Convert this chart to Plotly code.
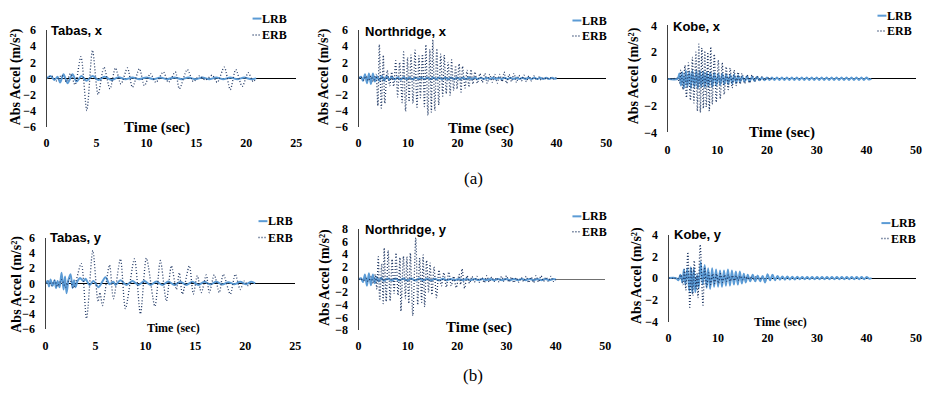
import plotly.graph_objects as go

# ---------------- DATA (time in s, abs. acceleration in m/s^2) -------------
tabas_x_erb = [(0,0),(0.5,0.3),(1.0,-0.3),(1.5,0.4),(2.0,-0.4),(2.4,0.6),(2.85,-0.8),(3.44,2.7),(4.03,-4.0),
               (4.6,3.5),(5.16,-2.0),(5.75,1.4),(6.35,-1.3),(6.9,1.3),(7.45,-0.7),(8.1,1.3),(8.6,-1.1),(9.3,1.2),
               (9.8,-0.9),(10.4,0.6),(10.95,-0.5),(11.7,0.8),(12.2,-0.5),(12.9,0.8),(13.3,-1.3),(14.1,1.1),
               (14.7,-0.4),(15.3,0.3),(15.9,-0.2),(16.6,0.4),(17.1,-0.5),(17.8,1.4),(18.4,-1.4),(18.95,1.1),
               (19.6,-1.0),(20.2,0.7),(20.7,-0.4),(21.0,0)]
tabas_x_lrb = [(0,0),(0.4,0.3),(0.8,-0.2),(1.1,0.2),(1.35,-0.5),(1.7,0.5),(2.1,-0.6),(2.6,0.5),(3.0,-0.4),
               (3.5,0.3),(4.0,-0.3),(4.6,0.3),(5.2,-0.2),(5.8,0.2),(6.5,-0.2),(7.2,0.15),(7.9,-0.1),(8.6,0.1),
               (9.3,-0.1),(10.0,0.12),(10.7,-0.1),(11.4,0.1),(12.1,-0.1),(12.8,0.12),(13.5,-0.1),(14.2,0.1),
               (14.9,-0.1),(15.6,0.1),(16.3,-0.1),(17.0,0.1),(17.7,-0.1),(18.4,0.1),(19.1,-0.1),(19.8,0.1),
               (20.5,-0.1),(21.0,0)]

northridge_x_erb = [(0,0),(0.5,0.15),(1.0,-0.2),(1.5,0.3),(2.0,-0.3),(2.5,0.3),(3.0,-0.4),(3.5,0.5),(3.9,-3.4),
                    (4.2,4.2),(4.6,-3.7),(5.0,2.9),(5.3,-3.1),(5.8,1.0),(6.3,-0.9),(6.7,0.8),(7.1,-1.0),(7.5,2.2),
                    (7.9,-2.3),(8.3,2.0),(8.8,-3.0),(9.1,3.3),(9.5,-4.1),(9.9,2.6),(10.2,-2.9),(10.6,2.9),
                    (11.0,-3.1),(11.4,3.5),(11.8,-3.6),(12.2,2.8),(12.5,-2.4),(12.9,3.0),(13.3,-3.5),(13.6,4.2),
                    (14.0,-4.6),(14.4,3.6),(14.7,-4.2),(15.0,4.8),(15.4,-4.0),(15.8,3.7),(16.2,-3.3),(16.6,3.0),
                    (17.0,-2.2),(17.3,2.9),(17.7,-1.9),(18.1,2.0),(18.5,-2.1),(18.8,2.3),(19.2,-1.5),(19.6,1.6),
                    (19.9,-1.3),(20.3,1.8),(20.7,-1.7),(21.0,1.5),(21.5,-1.2),(21.9,1.0),(22.3,-1.1),(22.7,1.1),
                    (23.1,-0.7),(23.5,0.8),(24.0,-0.6),(24.5,0.6),(25.0,-0.5),(25.5,0.6),(26.0,-0.6),(26.5,0.5),
                    (27.0,-0.5),(27.5,0.5),(28.0,-0.6),(28.5,0.5),(29.0,-0.4),(29.4,0.8),(29.9,-0.6),(30.4,0.5),
                    (30.9,-0.4),(31.4,0.6),(31.9,-0.5),(32.4,0.4),(32.9,-0.3),(33.4,0.4),(33.9,-0.4),(34.4,0.3),
                    (34.9,-0.3),(35.4,0.3),(35.9,-0.2),(36.4,0.2),(36.9,-0.2),(37.4,0.1),(38.0,-0.1),(38.6,0.1),
                    (39.2,-0.1),(39.8,0.1),(40.0,0)]
northridge_x_lrb = [(0,0),(0.5,0.2),(0.9,-0.3),(1.3,0.5),(1.7,-0.6),(2.1,0.6),(2.5,-0.7),(2.9,0.6),(3.3,-0.4),
                    (3.7,0.3),(4.2,-0.3),(4.7,0.3),(5.2,-0.3),(5.7,0.3),(6.2,-0.2),(6.7,0.2),(7.3,-0.15),(7.9,0.15),
                    (8.5,-0.15),(9.1,0.15),(9.7,-0.12),(10.3,0.12),(10.9,-0.12),(11.5,0.12),(12.1,-0.1),(12.7,0.12),
                    (13.3,-0.1),(13.9,0.1),(14.5,-0.1),(15.1,0.1),(15.7,-0.1),(16.3,0.1),(16.9,-0.1),(17.5,0.1),
                    (18.1,-0.1),(18.7,0.1),(19.3,-0.1),(19.9,0.1),(20.5,-0.1),(21.1,0.1),(21.7,-0.1),(22.3,0.1),
                    (22.9,-0.1),(23.5,0.1),(24.1,-0.08),(24.7,0.08),(25.3,-0.08),(25.9,0.08),(26.5,-0.08),
                    (27.1,0.08),(27.7,-0.08),(28.3,0.08),(28.9,-0.08),(29.5,0.08),(30.1,-0.08),(30.7,0.08),
                    (31.3,-0.08),(31.9,0.08),(32.5,-0.08),(33.1,0.08),(33.7,-0.08),(34.3,0.08),(34.9,-0.08),
                    (35.5,0.08),(36.1,-0.08),(36.7,0.08),(37.3,-0.08),(37.9,0.08),(38.5,-0.08),(39.1,0.08),
                    (39.7,-0.05),(40.0,0)]

kobe_x_erb = [(0,0),(1.0,0),(2.0,0.05),(2.4,-0.3),(2.7,0.65),(3.1,-0.8),(3.5,1.0),(3.8,-1.4),(4.2,1.2),(4.6,-1.6),
              (5.0,1.6),(5.3,-1.8),(5.7,2.0),(6.0,-2.4),(6.3,2.6),(6.6,-2.5),(6.9,2.3),(7.2,-2.2),(7.5,2.1),
              (7.8,-2.1),(8.1,2.0),(8.4,-2.4),(8.7,2.4),(9.0,-1.9),(9.4,1.85),(9.8,-1.75),(10.2,1.4),(10.6,-1.5),
              (11.0,1.2),(11.4,-1.15),(11.8,0.9),(12.2,-0.8),(12.6,0.8),(13.0,-0.67),(13.4,0.65),(13.8,-0.5),
              (14.2,0.5),(14.6,-0.4),(15.0,0.4),(15.5,-0.35),(16.0,0.3),(16.5,-0.3),(17.0,0.3),(17.5,-0.2),
              (18.0,0.2),(18.5,-0.15),(19.0,0.15),(19.5,-0.1),(20.0,0.05),(21.0,0)]
kobe_x_lrb = [(0,0),(2.0,0),(2.4,0.4),(2.7,-0.5),(3.0,0.5),(3.3,-0.7),(3.7,0.6),(4.0,-0.6),(4.4,0.55),(4.7,-0.7),
              (5.0,0.6),(5.4,-0.6),(5.8,0.6),(6.1,-0.7),(6.5,0.6),(6.8,-0.6),(7.2,0.55),(7.5,-0.6),(7.9,0.5),
              (8.2,-0.6),(8.6,0.5),(9.0,-0.6),(9.4,0.45),(9.8,-0.5),(10.2,0.4),(10.6,-0.45),(11.0,0.4),
              (11.4,-0.4),(11.8,0.35),(12.2,-0.4),(12.6,0.3),(13.0,-0.35),(13.4,0.3),(13.8,-0.3),(14.2,0.25),
              (14.6,-0.25),(15.0,0.2),(15.5,-0.2),(16.0,0.2),(16.5,-0.2),(17.0,0.15),(17.5,-0.15),(18.0,0.15),
              (18.5,-0.1),(19.0,0.1),(19.5,-0.1),(20.0,0.1),(20.5,-0.08),(21.0,0.1),(21.5,-0.08),(22.0,0.1),
              (22.5,-0.08),(23.0,0.1),(23.5,-0.08),(24.0,0.1),(24.5,-0.08),(25.0,0.1),(25.5,-0.08),(26.0,0.1),
              (26.5,-0.08),(27.0,0.1),(27.5,-0.08),(28.0,0.1),(28.5,-0.08),(29.0,0.1),(29.5,-0.08),(30.0,0.1),
              (30.5,-0.08),(31.0,0.1),(31.5,-0.08),(32.0,0.1),(32.5,-0.08),(33.0,0.1),(33.5,-0.08),(34.0,0.1),
              (34.5,-0.08),(35.0,0.1),(35.5,-0.08),(36.0,0.1),(36.5,-0.08),(37.0,0.1),(37.5,-0.08),(38.0,0.1),
              (38.5,-0.08),(39.0,0.1),(39.5,-0.08),(40.0,0.1),(40.5,-0.05),(41.0,0)]

tabas_y_erb = [(0,0),(0.3,0.3),(0.6,-0.3),(0.9,0.4),(1.2,-0.4),(1.6,0.5),(2.0,-0.5),(2.4,0.6),(2.8,-0.6),
               (3.57,2.6),(4.1,-4.6),(4.73,4.3),(5.25,-2.4),(5.45,-1.2),(5.7,-2.9),(6.4,2.4),(6.8,-2.0),(7.5,3.2),
               (8.0,-3.3),(8.9,3.2),(9.5,-4.0),(10.1,3.3),(10.95,-3.0),(11.5,3.0),(12.1,-2.3),(12.6,2.3),
               (13.1,-0.8),(13.4,1.4),(13.7,-1.4),(14.4,2.3),(14.8,-1.4),(15.2,1.0),(15.6,-1.2),(16.1,1.1),
               (16.4,-1.2),(16.9,1.1),(17.4,-1.2),(17.8,1.2),(18.5,-1.4),(19.0,1.2),(19.5,-0.8),(19.9,0.3),
               (20.3,-0.3),(20.6,0)]
tabas_y_lrb = [(0,0),(0.2,0.3),(0.35,-0.4),(0.5,0.5),(0.7,-0.3),(0.9,0.4),(1.05,-0.6),(1.2,0.3),(1.4,-0.5),
               (1.6,1.4),(1.8,-0.8),(1.95,0.9),(2.1,-1.3),(2.3,0.5),(2.5,1.2),(2.7,-0.6),(2.85,0.4),(3.0,-0.5),
               (3.2,0.3),(3.45,0.7),(3.8,0.3),(4.0,0.6),(4.4,-0.2),(4.8,0.3),(5.3,-0.5),(6.0,0.8),(6.4,-0.1),
               (6.8,0.2),(7.0,-0.2),(7.5,0.4),(8.1,-0.2),(8.7,0.3),(9.3,-0.2),(9.9,0.3),(10.5,-0.2),(11.1,0.25),
               (11.7,-0.2),(12.3,0.25),(12.9,-0.2),(13.5,0.2),(14.1,-0.2),(14.7,0.2),(15.3,-0.2),(15.9,0.2),
               (16.5,-0.15),(17.1,0.2),(17.7,-0.15),(18.3,0.15),(18.9,-0.1),(19.5,0.2),(20.1,-0.1),(20.6,0.2),
               (21.0,0)]

northridge_y_erb = [(0,0),(0.5,0.1),(1.0,-0.2),(1.5,0.2),(2.0,-0.3),(2.5,0.4),(3.0,-0.6),(3.4,0.8),(3.7,-1.5),
                    (4.0,3.6),(4.3,-3.3),(4.7,2.5),(5.0,-3.8),(5.2,5.0),(5.6,-3.5),(6.0,4.6),(6.4,-3.4),(6.8,3.2),
                    (7.2,-2.2),(7.6,4.2),(8.0,-2.5),(8.4,3.5),(8.6,-5.0),(9.1,3.7),(9.5,-3.0),(9.8,3.6),
                    (10.2,-3.8),(10.5,4.2),(11.0,-5.7),(11.6,6.6),(12.0,-4.0),(12.4,3.4),(12.8,-3.6),(13.1,3.9),
                    (13.4,-4.3),(13.8,3.0),(14.2,-2.0),(14.5,2.6),(14.9,-2.4),(15.3,2.0),(15.8,-2.9),(16.3,1.5),
                    (16.8,-1.0),(17.3,1.1),(17.8,-1.2),(18.3,1.2),(18.8,-1.0),(19.3,0.5),(19.8,-1.3),(20.4,0.8),
                    (20.7,-0.8),(21.0,1.7),(21.5,-1.4),(22.0,0.6),(22.5,-0.6),(23.0,0.5),(23.5,-0.4),(24.0,0.5),
                    (24.5,-0.4),(25.0,0.3),(25.5,-0.5),(26.0,0.6),(26.5,-0.4),(27.0,0.4),(27.5,-0.3),(28.0,0.3),
                    (28.5,-0.4),(29.0,0.5),(29.5,-0.3),(30.0,0.6),(30.5,-0.4),(31.0,0.4),(31.5,-0.5),(32.0,0.3),
                    (32.5,-0.4),(33.0,0.3),(33.5,-0.3),(34.0,0.5),(34.5,-0.5),(35.0,0.4),(35.5,-0.5),(36.0,0.6),
                    (36.5,-0.4),(37.0,0.6),(37.5,-0.3),(38.0,0.4),(38.5,-0.3),(39.0,0.5),(39.5,-0.3),(40.0,0)]
northridge_y_lrb = [(0,0),(0.5,0.2),(0.9,-0.4),(1.3,0.8),(1.7,-1.0),(2.1,1.0),(2.5,-0.9),(2.9,0.8),(3.3,-0.6),
                    (3.7,0.4),(4.1,-0.3),(4.6,0.3),(5.1,-0.2),(5.9,0.15),(6.7,-0.15),(7.5,0.15),(8.3,-0.15),
                    (9.1,0.15),(9.9,-0.15),(10.7,0.15),(11.5,-0.15),(12.3,0.15),(13.1,-0.12),(13.9,0.12),
                    (14.7,-0.12),(15.5,0.12),(16.3,-0.12),(17.1,0.12),(17.9,-0.1),(18.7,0.1),(19.5,-0.1),(20.3,0.1),
                    (21.1,-0.1),(21.9,0.1),(22.7,-0.1),(23.5,0.1),(24.3,-0.1),(25.1,0.1),(25.9,-0.1),(26.7,0.1),
                    (27.5,-0.1),(28.3,0.1),(29.1,-0.1),(29.9,0.1),(30.7,-0.1),(31.5,0.1),(32.3,-0.1),(33.1,0.1),
                    (33.9,-0.1),(34.7,0.1),(35.5,-0.1),(36.3,0.1),(37.1,-0.1),(37.9,0.1),(38.7,-0.1),(39.5,0.1),
                    (40.0,0)]

kobe_y_erb = [(0,0),(2.0,0),(2.5,0.3),(2.9,-0.6),(3.2,0.8),(3.5,-1.1),(3.9,2.4),(4.3,-2.7),(4.6,1.0),(4.9,-1.6),
              (5.2,1.6),(5.55,-1.0),(5.75,0.4),(5.95,-1.8),(6.4,3.1),(6.95,-2.5),(7.3,1.0),(7.7,-0.8),(8.1,0.5),
              (8.5,-0.6),(8.9,0.4),(9.3,-0.5),(9.7,0.4),(10.1,-0.5),(10.5,0.4),(10.9,-0.4),(11.3,0.3),(11.7,-0.3),
              (12.1,0.3),(12.5,-0.3),(12.9,0.25),(13.3,-0.25),(13.7,0.2),(14.1,-0.2),(14.5,0.2),(15.0,-0.15),
              (15.5,0.15),(16.0,-0.1),(16.5,0.1),(17.0,-0.1),(17.5,0.1),(18.0,-0.05),(19.0,0)]
kobe_y_lrb = [(0,0),(1.5,0),(2.0,-0.2),(2.4,0.3),(2.8,-0.4),(3.1,0.8),(3.4,-0.6),(3.8,0.9),(4.2,-1.2),(4.5,1.0),
              (4.8,-1.4),(5.1,0.9),(5.4,-1.3),(5.8,0.3),(6.1,-0.9),(6.5,1.5),(6.9,-0.6),(7.3,1.2),(7.7,-0.9),
              (8.0,0.9),(8.4,-1.0),(8.8,0.9),(9.2,-0.8),(9.6,0.8),(10.0,-0.8),(10.4,0.7),(10.8,-0.8),(11.2,0.7),
              (11.6,-0.7),(12.0,0.8),(12.4,-0.7),(12.8,0.7),(13.2,-0.6),(13.6,0.6),(14.0,-0.6),(14.4,0.6),
              (14.8,-0.5),(15.2,0.4),(15.6,-0.4),(16.0,0.3),(16.5,-0.3),(17.0,0.3),(17.5,-0.3),(18.0,0.25),
              (18.5,-0.3),(19.0,0.2),(19.5,-0.4),(20.0,0.35),(20.5,-0.2),(21.0,0.3),(21.5,-0.2),(22.0,0.2),
              (22.5,-0.15),(23.0,0.15),(23.5,-0.15),(24.0,0.15),(24.5,-0.12),(25.0,0.12),(25.5,-0.12),(26.0,0.12),
              (26.5,-0.1),(27.0,0.1),(27.5,-0.1),(28.0,0.1),(28.5,-0.1),(29.0,0.1),(29.5,-0.1),(30.0,0.1),
              (30.5,-0.1),(31.0,0.1),(31.5,-0.1),(32.0,0.1),(32.5,-0.1),(33.0,0.1),(33.5,-0.1),(34.0,0.1),
              (34.5,-0.1),(35.0,0.1),(35.5,-0.1),(36.0,0.1),(36.5,-0.1),(37.0,0.1),(37.5,-0.1),(38.0,0.1),
              (38.5,-0.1),(39.0,0.1),(39.5,-0.1),(40.0,0.1),(40.5,-0.05),(41.0,0)]

panel_titles = ["Tabas, x", "Northridge, x", "Kobe, x", "Tabas, y", "Northridge, y", "Kobe, y"]
series_names = ["LRB", "ERB"]
x_ranges = [[0, 25], [0, 50], [0, 50], [0, 25], [0, 50], [0, 50]]
x_steps = [5, 10, 10, 5, 10, 10]
y_ranges = [[-6, 6], [-6, 6], [-4, 4], [-6, 6], [-8, 8], [-4, 4]]
y_steps = [2, 2, 2, 2, 2, 2]
x_title = "Time (sec)"
y_title = "Abs Accel (m/s²)"
group_labels = ["(a)", "(b)"]

lrb_data = [tabas_x_lrb, northridge_x_lrb, kobe_x_lrb, tabas_y_lrb, northridge_y_lrb, kobe_y_lrb]
erb_data = [tabas_x_erb, northridge_x_erb, kobe_x_erb, tabas_y_erb, northridge_y_erb, kobe_y_erb]

# ---------------- LAYOUT (pixel geometry) ----------------
W, H = 935, 397
def fx(p): return p / W
def fy(p): return 1 - p / H

# plot boxes: (left, right, top, bottom) in px
boxes = [(44, 296, 24, 124), (359, 609, 24, 124), (671, 922, 19, 130),
         (43, 295, 239, 334), (359, 608, 230, 335), (672, 922, 236, 326)]
title_pos = [(47, 24), (365, 25), (675, 20), (46, 239), (365, 231), (677, 236)]
ytitle_pos = [(14, 72), (325, 72), (638, 71), (14, 287), (325, 280), (640, 278)]
xtitle_pos = [(156, 125, 15), (483, 126, 15), (787, 130, 15), (172, 333, 12), (481, 332, 15), (785, 326, 12)]
legend_pos = [(252, 12, 29), (575, 14, 30), (883, 9, 25), (258, 222, 239), (575, 217, 233), (887, 224, 240)]
xtick_len = [5, 5, 6, 5, 4, 5]
zero_colors = ["black", "black", "black", "black", "#707070", "black"]

SERIF = "Liberation Serif"
SANS = "Liberation Sans"
LRB_COLOR = "#5B9BD5"
ERB_COLOR = "#203864"
DOT = "1px,2px"

fig = go.Figure()
annotations = []
shapes = []
layout = {}

for i in range(6):
    n = "" if i == 0 else str(i + 1)
    xa, ya = "x" + n, "y" + n
    l, r, t, b = boxes[i]
    lt, lv = zip(*lrb_data[i])
    et, ev = zip(*erb_data[i])
    fig.add_trace(go.Scatter(x=lt, y=lv, mode="lines", name=series_names[0], xaxis=xa, yaxis=ya,
                             line=dict(color=LRB_COLOR, width=2, shape="spline", smoothing=0.8),
                             showlegend=False))
    fig.add_trace(go.Scatter(x=et, y=ev, mode="lines", name=series_names[1], xaxis=xa, yaxis=ya,
                             line=dict(color=ERB_COLOR, width=1.3, dash=DOT, shape="spline", smoothing=0.8),
                             showlegend=False))
    layout["xaxis" + n] = dict(domain=[fx(l), fx(r)], range=x_ranges[i], dtick=x_steps[i], tick0=0,
                               anchor=ya, showgrid=False, zeroline=False, showline=False,
                               ticks="outside", ticklen=xtick_len[i], tickcolor="rgba(0,0,0,0)",
                               tickfont=dict(family=SERIF, size=12, color="black", weight="bold"))
    layout["yaxis" + n] = dict(domain=[fy(b), fy(t)], range=y_ranges[i], dtick=y_steps[i], tick0=0,
                               anchor=xa, showgrid=False, zeroline=True, zerolinecolor=zero_colors[i],
                               zerolinewidth=1, showline=True, linecolor="#404040", linewidth=1.3,
                               ticks="outside", ticklen=7, tickcolor="rgba(0,0,0,0)",
                               tickfont=dict(family=SERIF, size=12, color="black", weight="bold"))
    tx, ty = title_pos[i]
    annotations.append(dict(text=panel_titles[i], x=fx(tx), y=fy(ty), xref="paper", yref="paper",
                            xanchor="left", yanchor="middle", showarrow=False, borderpad=0,
                            font=dict(family=SANS, size=13, color="black", weight="bold")))
    yx, yy = ytitle_pos[i]
    annotations.append(dict(text=y_title, x=fx(yx), y=fy(yy), xref="paper", yref="paper", textangle=-90,
                            xanchor="center", yanchor="middle", showarrow=False, borderpad=0,
                            font=dict(family=SERIF, size=14, color="black", weight="bold")))
    xx, xy, xs = xtitle_pos[i]
    annotations.append(dict(text=x_title, x=fx(xx), y=fy(xy), xref="paper", yref="paper",
                            xanchor="center", yanchor="middle", showarrow=False, borderpad=0,
                            font=dict(family=SERIF, size=xs, color="black", weight="bold")))
    lx, ly1, ly2 = legend_pos[i]
    for name, yy_, col, dash, wd in [(series_names[0], ly1, LRB_COLOR, "solid", 2),
                                     (series_names[1], ly2, ERB_COLOR, DOT, 1.5)]:
        shapes.append(dict(type="line", xref="paper", yref="paper", x0=fx(lx), x1=fx(lx + 9),
                           y0=fy(yy_), y1=fy(yy_), line=dict(color=col, width=wd, dash=dash)))
        annotations.append(dict(text=name, x=fx(lx + 9), y=fy(yy_), xref="paper", yref="paper",
                                xanchor="left", yanchor="middle", showarrow=False, borderpad=0,
                                font=dict(family=SERIF, size=12, color="black", weight="bold")))

annotations.append(dict(text=group_labels[0], x=fx(475), y=fy(178), xref="paper", yref="paper",
                        xanchor="center", yanchor="middle", showarrow=False,
                        font=dict(family=SERIF, size=17, color="black")))
annotations.append(dict(text=group_labels[1], x=fx(475), y=fy(382), xref="paper", yref="paper",
                        xanchor="center", yanchor="middle", showarrow=False,
                        font=dict(family=SERIF, size=17, color="black")))

fig.update_layout(width=W, height=H, margin=dict(l=0, r=0, t=0, b=0),
                  paper_bgcolor="white", plot_bgcolor="white", showlegend=False,
                  annotations=annotations, shapes=shapes, **layout)

fig.write_html("out.html", config={"displayModeBar": False},
               post_script="document.body.style.margin='0';document.body.style.overflow='hidden';")
